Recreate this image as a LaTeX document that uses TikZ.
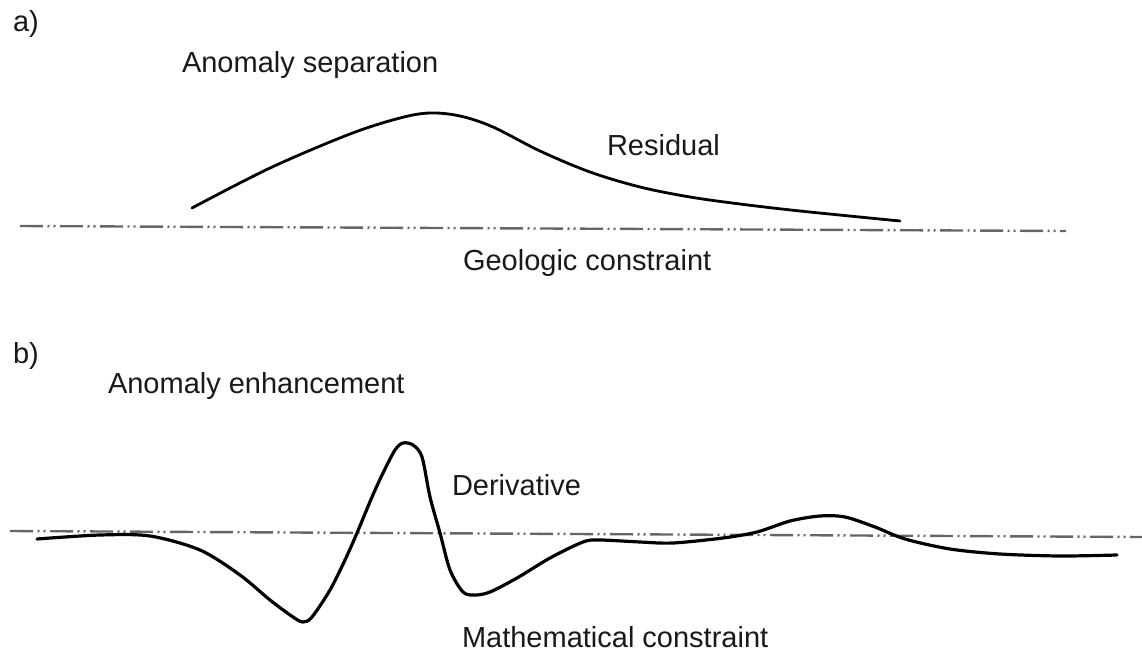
\documentclass[tikz,border=0pt]{standalone}
\usepackage{fontspec}
\setmainfont{Liberation Sans}
\begin{document}
\begin{tikzpicture}[x=1pt,y=-1pt,
  lbl/.style={anchor=base west,inner sep=0pt,outer sep=0pt,font=\fontsize{29}{34}\selectfont,text=black!90},
  baseline line/.style={draw=black!60,line width=2.4pt,dash pattern=on 23pt off 4.5pt on 2pt off 4pt on 2pt off 4.5pt},
  curve/.style={draw=black,line width=3.2pt,line cap=round,line join=round}]
\useasboundingbox (0,0) rectangle (1142,652);
% panel a
\node[lbl] (la) at (13,32) {a)};
\node[lbl] (sep) at (182,73) {Anomaly separation};
\node[lbl] (res) at (607,156) {Residual};
\node[lbl] (geo) at (463,270) {Geologic constraint};
\coordinate (ga) at (20,226);
\coordinate (gb) at (1066,231);
\draw[baseline line] (ga) -- (gb);
\draw[curve,line width=2.8pt] plot[smooth,tension=0.55] coordinates {
 (192,208) (270,168) (350,134) (400,118) (430,113) (460,116) (493,127)
 (540,151) (590,172) (640,187) (690,197) (740,204) (800,211) (900,221)};
% panel b
\node[lbl] (lb) at (13,363) {b)};
\node[lbl] (enh) at (108,393) {Anomaly enhancement};
\node[lbl] (der) at (452,495) {Derivative};
\node[lbl] (mat) at (462,647) {Mathematical constraint};
\coordinate (ma) at (10,531);
\coordinate (mb) at (1142,537);
\draw[baseline line] (ma) -- (mb);
\draw[curve] plot[smooth,tension=0.5] coordinates {
 (37,539) (100,535) (150,536) (200,550) (240,575) (270,600) (293,617)
 (303,622) (312,617) (330,590) (345,560) (357,533) (372,497) (383,473)
 (395,450) (403,443) (413,445) (422,457) (430,497) (440,533) (450,570)
 (463,592) (475,595) (490,592) (517,578) (550,558) (583,542) (600,540)
 (640,542) (673,543) (723,538) (757,532) (790,521) (820,516) (845,517)
 (875,527) (905,539) (950,549) (1000,554) (1060,556) (1117,555)};
\end{tikzpicture}
\end{document}
